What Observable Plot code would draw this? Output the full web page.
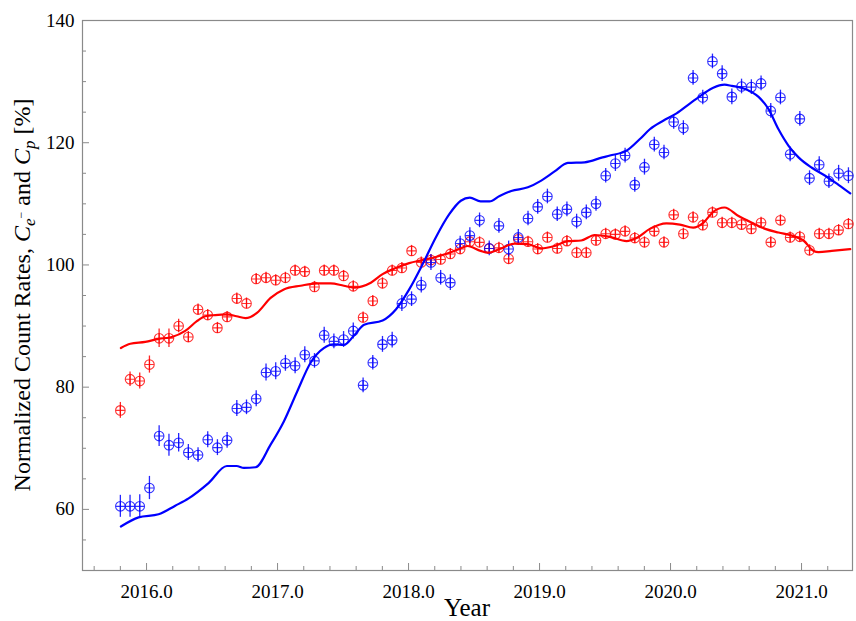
<!DOCTYPE html>
<html>
<head>
<meta charset="utf-8">
<script src="https://cdn.jsdelivr.net/npm/d3@7"></script>
<script src="https://cdn.jsdelivr.net/npm/@observablehq/plot@0.6"></script>
<style>
  html, body { margin: 0; padding: 0; background: #fff; }
  #chart svg { display: block; }
</style>
</head>
<body>
<div id="chart"></div>
<script>
// Bartels-rotation averaged count rates (decimal years)
const years = [
  2015.800, 2015.874, 2015.948, 2016.022, 2016.096, 2016.171, 2016.245, 2016.319,
  2016.393, 2016.467, 2016.541, 2016.615, 2016.689, 2016.763, 2016.837, 2016.912,
  2016.986, 2017.060, 2017.134, 2017.208, 2017.282, 2017.356, 2017.430, 2017.504,
  2017.578, 2017.653, 2017.727, 2017.801, 2017.875, 2017.949, 2018.023, 2018.097,
  2018.171, 2018.245, 2018.319, 2018.394, 2018.468, 2018.542, 2018.616, 2018.690,
  2018.764, 2018.838, 2018.912, 2018.986, 2019.060, 2019.135, 2019.209, 2019.283,
  2019.357, 2019.431, 2019.505, 2019.579, 2019.653, 2019.727, 2019.801, 2019.876,
  2019.950, 2020.024, 2020.098, 2020.172, 2020.246, 2020.320, 2020.394, 2020.468,
  2020.542, 2020.617, 2020.691, 2020.765, 2020.839, 2020.913, 2020.987, 2021.061,
  2021.135, 2021.209, 2021.283, 2021.358
];

// Electron count rate C_e- [%]
const electronRate = [
  60.5, 60.5, 60.5, 63.5, 72.0, 70.5, 70.9, 69.3, 68.9, 71.4, 70.1, 71.3,
  76.5, 76.7, 78.1, 82.4, 82.6, 83.9, 83.5, 85.3, 84.3, 88.5, 87.5, 87.8,
  89.2, 80.3, 84.0, 87.0, 87.7, 93.7, 94.4, 96.7, 100.4, 97.9, 97.1, 103.5,
  104.8, 107.3, 102.7, 106.4, 102.6, 104.5, 107.6, 109.5, 111.2, 108.3, 109.1, 107.1,
  108.6, 110.0, 114.6, 116.6, 117.9, 113.1, 116.0, 119.7, 118.4, 123.4, 122.4, 130.6,
  127.4, 133.3, 131.3, 127.5, 129.2, 129.1, 129.7, 125.2, 127.4, 118.1, 123.9, 114.2,
  116.4, 113.7, 115.0, 114.6
];
const electronErr = [
  1.8, 1.8, 1.9, 1.9, 1.7, 1.8, 1.5, 1.3, 1.2, 1.3, 1.3, 1.3,
  1.3, 1.2, 1.3, 1.4, 1.4, 1.3, 1.3, 1.3, 1.2, 1.3, 1.2, 1.3,
  1.3, 1.2, 1.2, 1.3, 1.3, 1.3, 1.2, 1.3, 1.3, 1.2, 1.3, 1.2,
  1.3, 1.2, 1.2, 1.2, 1.3, 1.3, 1.2, 1.2, 1.2, 1.2, 1.2, 1.2,
  1.2, 1.2, 1.2, 1.3, 1.2, 1.2, 1.3, 1.2, 1.2, 1.2, 1.2, 1.2,
  1.2, 1.2, 1.3, 1.3, 1.2, 1.2, 1.2, 1.2, 1.2, 1.2, 1.2, 1.2,
  1.3, 1.2, 1.3, 1.3
];

// Proton count rate C_p [%]
const protonRate = [
  76.2, 81.3, 81.0, 83.7, 88.0, 88.0, 90.0, 88.2, 92.7, 91.8, 89.7, 91.5,
  94.5, 93.7, 97.7, 97.9, 97.5, 97.9, 99.1, 98.9, 96.4, 99.1, 99.1, 98.2,
  96.5, 91.4, 94.1, 97.0, 99.1, 99.5, 102.3, 100.4, 100.8, 100.9, 101.8, 102.6,
  103.8, 103.7, 102.7, 102.8, 101.0, 104.2, 103.8, 102.6, 104.5, 102.7, 103.9, 102.0,
  102.0, 104.0, 105.1, 105.0, 105.5, 104.4, 103.7, 105.5, 103.7, 108.2, 105.1, 107.8,
  106.5, 108.6, 106.9, 106.9, 106.6, 105.9, 106.9, 103.7, 107.3, 104.5, 104.6, 102.4,
  105.1, 105.1, 105.7, 106.7
];
const protonErr = [
  1.3, 1.2, 1.3, 1.4, 1.5, 1.5, 1.1, 0.9, 0.9, 0.9, 0.9, 0.9,
  0.9, 0.9, 0.9, 0.9, 0.9, 0.9, 0.9, 0.9, 0.9, 0.9, 0.9, 0.9,
  0.9, 0.9, 0.9, 0.9, 0.9, 0.9, 0.9, 0.9, 0.9, 0.9, 0.9, 0.9,
  0.9, 0.9, 0.9, 0.9, 0.9, 0.9, 0.9, 0.9, 0.9, 0.9, 0.9, 0.9,
  0.9, 0.9, 0.9, 0.9, 0.9, 0.9, 0.9, 0.9, 0.9, 0.9, 0.9, 0.9,
  0.9, 0.9, 0.9, 0.9, 0.9, 0.9, 0.9, 0.9, 0.9, 0.9, 0.9, 0.9,
  0.9, 0.9, 0.9, 0.9
];

// Model curves
const electronModelYears = [
  2015.804, 2015.939, 2016.092, 2016.219, 2016.321, 2016.473, 2016.613, 2016.687,
  2016.743, 2016.832, 2016.947, 2017.048, 2017.150, 2017.252, 2017.353, 2017.430,
  2017.506, 2017.582, 2017.661, 2017.802, 2017.903, 2018.005, 2018.107, 2018.208,
  2018.311, 2018.399, 2018.468, 2018.550, 2018.618, 2018.695, 2018.784, 2018.911,
  2019.013, 2019.115, 2019.216, 2019.344, 2019.481, 2019.537, 2019.664, 2019.766,
  2019.842, 2019.944, 2020.046, 2020.147, 2020.250, 2020.326, 2020.412, 2020.468,
  2020.570, 2020.672, 2020.748, 2020.824, 2020.901, 2020.977, 2021.079, 2021.181,
  2021.282, 2021.372
];
const electronModel = [
  57.2, 58.7, 59.2, 60.6, 61.8, 64.3, 67.1, 67.1,
  66.8, 66.9, 70.6, 74.4, 79.3, 84.0, 86.4, 87.0,
  86.9, 88.4, 90.2, 90.9, 92.7, 96.0, 100.1, 104.5,
  108.3, 110.5, 111.0, 110.4, 110.4, 111.3, 112.1, 112.7,
  113.8, 115.3, 116.7, 116.8, 117.6, 117.9, 118.7, 120.6,
  122.2, 123.6, 124.8, 126.4, 128.0, 129.0, 129.5, 129.3,
  128.8, 127.5, 125.5, 122.2, 119.5, 117.6, 115.9, 114.6,
  113.1, 111.7
];

const protonModelYears = [
  2015.804, 2015.876, 2015.990, 2016.092, 2016.193, 2016.295, 2016.384, 2016.448,
  2016.524, 2016.613, 2016.687, 2016.756, 2016.845, 2016.947, 2017.048, 2017.176,
  2017.303, 2017.405, 2017.506, 2017.582, 2017.712, 2017.802, 2017.903, 2018.005,
  2018.107, 2018.208, 2018.311, 2018.387, 2018.450, 2018.550, 2018.605, 2018.695,
  2018.809, 2018.911, 2019.013, 2019.115, 2019.216, 2019.318, 2019.420, 2019.537,
  2019.664, 2019.740, 2019.842, 2019.969, 2020.071, 2020.173, 2020.250, 2020.326,
  2020.412, 2020.519, 2020.621, 2020.723, 2020.824, 2020.926, 2021.015, 2021.092,
  2021.130, 2021.231, 2021.372
];
const protonModel = [
  86.4, 87.1, 87.4, 87.9, 88.2, 89.2, 90.8, 91.6,
  91.8, 91.9, 91.6, 91.3, 92.2, 94.6, 96.0, 96.6,
  97.0, 97.0, 96.6, 96.3, 97.1, 98.5, 99.5, 100.3,
  100.8, 101.3, 102.0, 102.6, 103.1, 102.3, 102.0, 102.6,
  103.5, 103.4, 102.7, 103.1, 103.9, 104.0, 104.9, 104.6,
  103.9, 104.4, 105.9, 106.8, 106.6, 106.1, 106.9, 108.7,
  109.4, 108.0, 106.9, 105.9, 105.3, 104.8, 104.0, 102.3,
  102.1, 102.3, 102.6
];

// Axis ticks
const xMajorTicks = [2016, 2017, 2018, 2019, 2020, 2021];
const xMinorTicks = [
  2015.6, 2015.8, 2016.2, 2016.4, 2016.6, 2016.8, 2017.2, 2017.4, 2017.6, 2017.8,
  2018.2, 2018.4, 2018.6, 2018.8, 2019.2, 2019.4, 2019.6, 2019.8,
  2020.2, 2020.4, 2020.6, 2020.8, 2021.2
];
const yMajorTicks = [60, 80, 100, 120, 140];
const yMinorTicks = [55, 65, 70, 75, 85, 90, 95, 105, 110, 115, 125, 130, 135];

const xDomain = [2015.511, 2021.389];
const yDomain = [50, 140];

const SERIF = "Liberation Serif";
const BLUE = "#0000ff";
const RED = "#ff0000";
const FRAME = "#8a8a8a";

const rows = (vals, errs) => years.map((t, i) => ({t, v: vals[i], e: errs[i]}));
const electrons = rows(electronRate, electronErr);
const protons = rows(protonRate, protonErr);
const curve = (xs, ys) => xs.map((t, i) => ({t, v: ys[i]}));

// circle with a cross through it
const circleCross = {
  draw(ctx, size) {
    const r = Math.sqrt(size / Math.PI);
    ctx.moveTo(r, 0);
    ctx.arc(0, 0, r, 0, 2 * Math.PI);
    ctx.moveTo(-r, 0);
    ctx.lineTo(r, 0);
    ctx.moveTo(0, -r);
    ctx.lineTo(0, r);
  }
};

const seriesMarks = (data, color) => [
  Plot.ruleX(data, {x: "t", y1: d => d.v - d.e, y2: d => d.v + d.e, stroke: color, strokeWidth: 1.3, strokeOpacity: 0.85}),
  Plot.dot(data, {x: "t", y: "v", r: 4.8, symbol: circleCross, stroke: color, fill: "none", strokeWidth: 1.1, strokeOpacity: 0.8})
];

const chart = Plot.plot({
  width: 856,
  height: 621,
  marginLeft: 82,
  marginRight: 4,
  marginTop: 20,
  marginBottom: 51,
  style: {fontFamily: SERIF, fontSize: "19px", color: "#000", background: "#fff"},
  x: {domain: xDomain, axis: null},
  y: {domain: yDomain, axis: null},
  marks: [
    // inward tick marks on the left and bottom edges
    Plot.ruleX(xMajorTicks, {x: d => d, y1: yDomain[0], y2: yDomain[0], insetTop: -7, stroke: FRAME}),
    Plot.ruleX(xMinorTicks, {x: d => d, y1: yDomain[0], y2: yDomain[0], insetTop: -4, stroke: FRAME}),
    Plot.ruleY(yMajorTicks, {y: d => d, x1: xDomain[0], x2: xDomain[0], insetRight: -7, stroke: FRAME}),
    Plot.ruleY(yMinorTicks, {y: d => d, x1: xDomain[0], x2: xDomain[0], insetRight: -4, stroke: FRAME}),
    // tick labels
    Plot.text(xMajorTicks, {x: d => d, y: yDomain[0], text: d3.format(".1f"), dy: 21, fontFamily: SERIF, fontSize: 19, fill: "#000"}),
    Plot.text(yMajorTicks, {x: xDomain[0], y: d => d, text: d => String(d), dx: -8, textAnchor: "end", fontFamily: SERIF, fontSize: 19, fill: "#000"}),
    Plot.frame({stroke: FRAME, strokeWidth: 1.2}),
    ...seriesMarks(protons, RED),
    ...seriesMarks(electrons, BLUE),
    Plot.line(curve(protonModelYears, protonModel), {x: "t", y: "v", stroke: RED, strokeWidth: 2.2, curve: "monotone-x"}),
    Plot.line(curve(electronModelYears, electronModel), {x: "t", y: "v", stroke: BLUE, strokeWidth: 2.2, curve: "monotone-x"})
  ]
});

const svg = d3.select(chart);

svg.append("text")
  .attr("x", 467)
  .attr("y", 616)
  .attr("text-anchor", "middle")
  .attr("font-family", SERIF)
  .attr("font-size", 25)
  .attr("fill", "#000")
  .text("Year");

const ylab = svg.append("text")
  .attr("transform", "translate(30,295) rotate(-90)")
  .attr("text-anchor", "middle")
  .attr("font-family", SERIF)
  .attr("font-size", 24)
  .attr("fill", "#000");
ylab.append("tspan").text("Normalized Count Rates, ");
ylab.append("tspan").attr("font-style", "italic").text("C");
ylab.append("tspan").attr("font-style", "italic").attr("font-size", 17).attr("dy", 5).text("e");
ylab.append("tspan").attr("font-size", 12).attr("dy", -10).text("\u2212");
ylab.append("tspan").attr("dy", 5).text(" and ");
ylab.append("tspan").attr("font-style", "italic").text("C");
ylab.append("tspan").attr("font-style", "italic").attr("font-size", 17).attr("dy", 5).text("p");
ylab.append("tspan").attr("dy", -5).text(" [%]");

document.getElementById("chart").appendChild(chart);
</script>
</body>
</html>
